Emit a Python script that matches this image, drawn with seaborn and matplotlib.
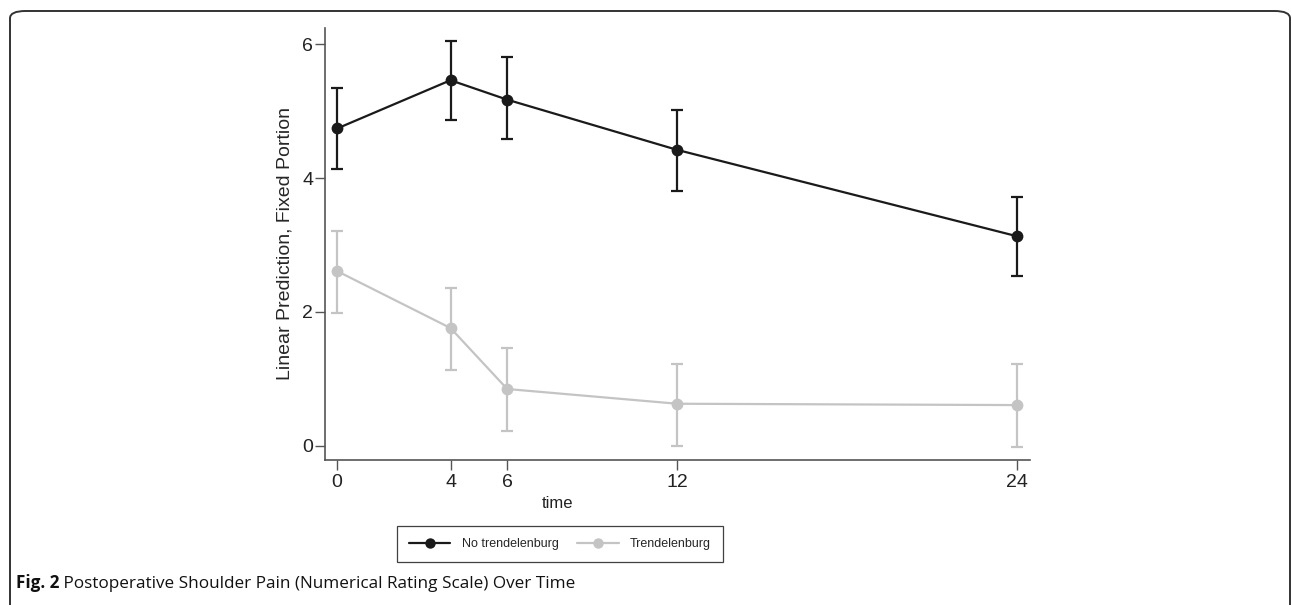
import numpy as np
import pandas as pd
import matplotlib
matplotlib.use("Agg")
import matplotlib.pyplot as plt
import seaborn as sns
from matplotlib.patches import FancyBboxPatch
from matplotlib.lines import Line2D

time_points = [0, 4, 6, 12, 24]
groups = ["No trendelenburg", "Trendelenburg"]

no_tr_mean = [4.74, 5.46, 5.17, 4.42, 3.13]
no_tr_low = [4.14, 4.86, 4.58, 3.81, 2.53]
no_tr_high = [5.34, 6.05, 5.80, 5.01, 3.72]

tr_mean = [2.61, 1.76, 0.85, 0.63, 0.61]
tr_low = [1.98, 1.13, 0.23, 0.00, -0.01]
tr_high = [3.21, 2.36, 1.46, 1.23, 1.22]

ytick_vals = [0, 2, 4, 6]

df = pd.DataFrame({
    "time": time_points * 2,
    "pred": no_tr_mean + tr_mean,
    "low": no_tr_low + tr_low,
    "high": no_tr_high + tr_high,
    "group": [groups[0]] * 5 + [groups[1]] * 5,
})

colors = {groups[0]: "#1a1a1a", groups[1]: "#c4c4c4"}

sns.set_style("white")
plt.rcParams["font.family"] = ["Liberation Sans", "DejaVu Sans"]

fig = plt.figure(figsize=(12.92, 6.05), dpi=100)
ax = fig.add_axes([325 / 1292, 1 - 460 / 605, 705 / 1292, 432 / 605])

# confidence intervals first so the markers sit on top
for g in groups:
    sub = df[df["group"] == g]
    ax.errorbar(sub["time"], sub["pred"],
                yerr=[sub["pred"] - sub["low"], sub["high"] - sub["pred"]],
                fmt="none", ecolor=colors[g], elinewidth=1.6,
                capsize=4.5, capthick=1.6, zorder=2)

sns.lineplot(data=df, x="time", y="pred", hue="group", palette=colors,
             marker="o", markersize=8.5, markeredgewidth=0, linewidth=1.6,
             legend=False, ax=ax, zorder=3)

ax.set_xlim(-0.43, 24.45)
ax.set_ylim(-0.21, 6.24)
ax.set_xticks(time_points)
ax.set_yticks(ytick_vals)
ax.set_xlabel("")
ax.set_ylabel("Linear Prediction, Fixed Portion", fontsize=14, labelpad=6)

for side in ["top", "right"]:
    ax.spines[side].set_visible(False)
for side in ["left", "bottom"]:
    ax.spines[side].set_color("#555555")
    ax.spines[side].set_linewidth(1.2)
ax.tick_params(axis="both", which="major", direction="out", length=7,
               width=1.0, color="#555555", labelsize=14, labelcolor="#222222",
               left=True, bottom=True)
ax.tick_params(axis="y", pad=1.5)
ax.tick_params(axis="x", pad=3)

fig.text(557 / 1292, 1 - 503 / 605, "time", ha="center", va="center",
         fontsize=12, color="#222222")

handles = [Line2D([], [], color=colors[g], marker="o", markersize=7.5,
                  markeredgewidth=0, linewidth=1.6) for g in groups]
leg = fig.legend(handles, groups, loc="center", ncol=2,
                 bbox_to_anchor=(560 / 1292, 1 - 544 / 605),
                 prop={"size": 9}, handlelength=3.3, handletextpad=0.9,
                 columnspacing=1.5, frameon=True, fancybox=False,
                 borderpad=0.95, borderaxespad=0)
leg.get_frame().set_edgecolor("#111111")
leg.get_frame().set_linewidth(0.9)

# figure frame of the journal page
frame = FancyBboxPatch((10 / 1292, -0.05), 1280 / 1292, 1 - 11 / 605 + 0.05,
                       boxstyle="round,pad=0,rounding_size=0.012",
                       transform=fig.transFigure, fill=False,
                       edgecolor="#333333", linewidth=1.4, clip_on=False)
fig.patches.append(frame)

cap_font = ["Open Sans", "DejaVu Sans"]
t1 = fig.text(16 / 1292, 1 - 588 / 605, "Fig. 2", fontsize=12.3, weight="bold",
              family=cap_font, color="#111111", va="baseline")
plt.annotate(" Postoperative Shoulder Pain (Numerical Rating Scale) Over Time",
             xy=(1, 0), xycoords=t1, va="bottom", ha="left",
             fontsize=12.3, family=cap_font, color="#111111",
             annotation_clip=False)

fig.savefig("out.png", dpi=100)
